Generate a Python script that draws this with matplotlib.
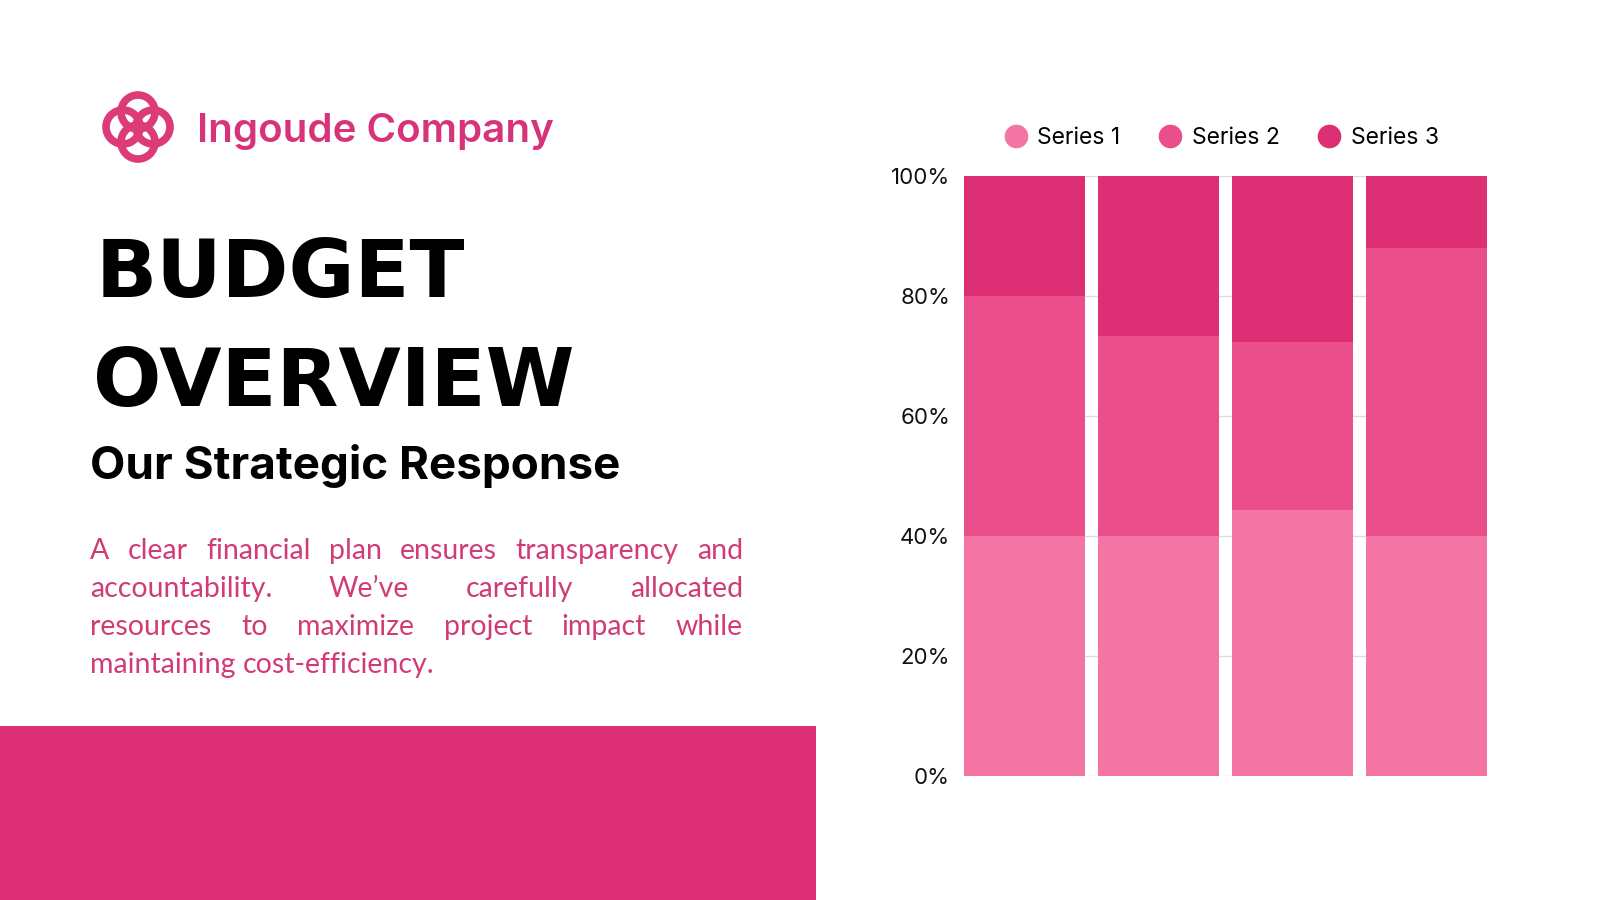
import matplotlib.pyplot as plt
from matplotlib.patches import Rectangle, Circle
from matplotlib.lines import Line2D

# datos del grafico (porcentajes apilados)
categories = ['A', 'B', 'C', 'D']
series_names = ['Series 1', 'Series 2', 'Series 3']
series_1 = [40.0, 40.0, 44.4, 40.0]
series_2 = [40.0, 33.4, 27.9, 48.0]
series_3 = [20.0, 26.6, 27.7, 12.0]
y_ticks = [0, 20, 40, 60, 80, 100]
y_tick_labels = ['0%', '20%', '40%', '60%', '80%', '100%']

company = 'Ingoude Company'
title_lines = ['BUDGET', 'OVERVIEW']
subtitle = 'Our Strategic Response'
paragraph = [
    'A clear financial plan ensures transparency and',
    'accountability. We\u2019ve carefully allocated',
    'resources to maximize project impact while',
    'maintaining cost-efficiency.',
]

colors = ['#F474A4', '#EA4F8C', '#DD2F73']
pink_text = '#D8337A'

fig = plt.figure(figsize=(16, 9), dpi=100)
fig.patch.set_facecolor('white')

# capa de fondo en pixeles (y hacia abajo)
bg = fig.add_axes([0, 0, 1, 1])
bg.set_xlim(0, 1600)
bg.set_ylim(900, 0)
bg.axis('off')

bg.add_patch(Rectangle((0, 726), 816, 174, color='#DD2F73', lw=0))

# logo: cuatro anillos
cx, cy = 138, 127
for dx, dy in [(0, -15), (15, 0), (0, 15), (-15, 0)]:
    bg.add_patch(Circle((cx + dx, cy + dy), 17, fill=False, ec='#DD3A78', lw=5.5))

bg.text(197, 142, company, fontsize=29, color=pink_text, fontweight='semibold',
        family='Inter', va='baseline', ha='left')

bg.text(96, 297, title_lines[0], fontsize=58, fontweight='bold', color='black',
        family='DejaVu Sans', va='baseline')
bg.text(93, 406, title_lines[1], fontsize=58, fontweight='bold', color='black',
        family='DejaVu Sans', va='baseline')

bg.text(90, 479, subtitle, fontsize=33, fontweight='bold', color='black',
        family='Inter', va='baseline')

# parrafo justificado
renderer = fig.canvas.get_renderer()
left, right = 90, 743
baselines = [559, 597, 635, 673]
for i, line in enumerate(paragraph):
    words = line.split(' ')
    texts = [bg.text(0, baselines[i], w, fontsize=20.5, color='#D23C76', family='Lato',
                     va='baseline', ha='left') for w in words]
    widths = [t.get_window_extent(renderer).width for t in texts]
    if i < len(paragraph) - 1 and len(words) > 1:
        gap = (right - left - sum(widths)) / (len(words) - 1)
    else:
        gap = 7
    x = left
    for t, w in zip(texts, widths):
        t.set_x(x)
        x += w + gap

# grafico de barras apiladas
ax = fig.add_axes([964 / 1600, 1 - 776 / 900, 523 / 1600, 600 / 900])
x = range(len(categories))
ax.bar(x, series_1, width=0.9, color=colors[0], zorder=2)
ax.bar(x, series_2, width=0.9, bottom=series_1, color=colors[1], zorder=2)
bottom3 = [a + b for a, b in zip(series_1, series_2)]
ax.bar(x, series_3, width=0.9, bottom=bottom3, color=colors[2], zorder=2)

ax.set_xlim(-0.45, len(categories) - 0.55)
ax.set_ylim(0, 100)
ax.set_yticks(y_ticks)
ax.set_yticklabels(y_tick_labels, fontsize=16, color='#111111', family='Inter')
ax.set_xticks([])
ax.tick_params(axis='y', length=0, pad=10)
ax.grid(axis='y', color='#DDDDDD', lw=1)
ax.set_axisbelow(True)
for s in ax.spines.values():
    s.set_visible(False)

handles = [Line2D([], [], marker='o', ls='', markersize=16, color=c) for c in colors]
ax.legend(handles, series_names, loc='center', bbox_to_anchor=(0.49, 1 + 38 / 600),
          ncol=3, frameon=False, prop={'family': 'Inter', 'size': 16.5},
          handletextpad=0.35, columnspacing=1.55, handlelength=1.2)

fig.savefig('out.png', dpi=100)
